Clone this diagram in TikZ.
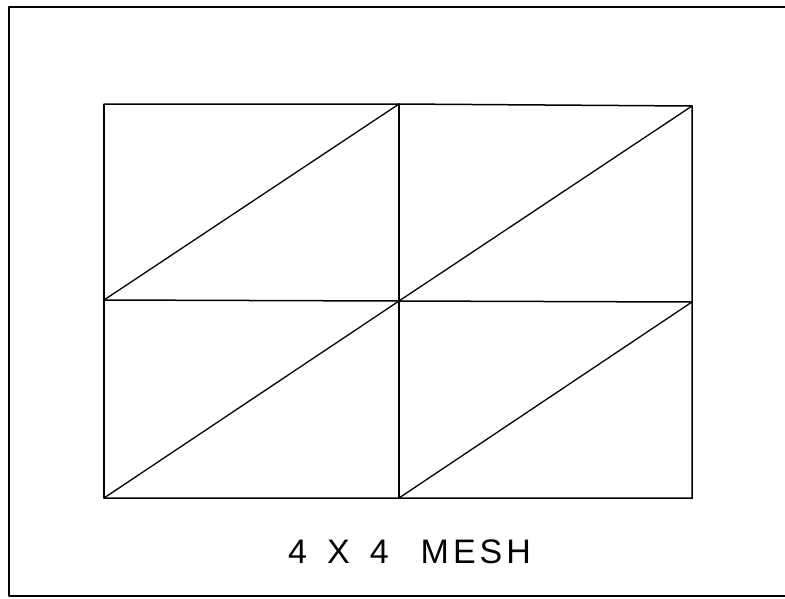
\documentclass[tikz,border=0pt]{standalone}
\usepackage{fontspec}
\setmainfont{Liberation Sans}
\begin{document}
\begin{tikzpicture}[x=1pt,y=-1pt,
  frame/.style={line width=1.6pt,line cap=round,line join=round},
  meshline/.style={line width=1.5pt,line cap=round},
  diag/.style={line width=1.3pt,line cap=round}]
\useasboundingbox (0,0) rectangle (785,598);
% outer frame (right side runs off the page)
\coordinate (otl) at (9,7);
\coordinate (otr) at (785,7);
\coordinate (obl) at (9,596);
\coordinate (obr) at (785,596);
\draw[frame] (otr) -- (otl) -- (obl) -- (obr);
% mesh corners
\coordinate (a1) at (104,104);
\coordinate (a2) at (399,104);
\coordinate (a3) at (692,106);
\coordinate (b1) at (104,300);
\coordinate (b2) at (399,301);
\coordinate (b3) at (692,302);
\coordinate (c1) at (104,498);
\coordinate (c2) at (399,498);
\coordinate (c3) at (692,498);
\draw[meshline] (a1) -- (a2) -- (a3) -- (b3) -- (c3) -- (c2) -- (c1);
\draw[line width=2.6pt] (c1) -- (b1) -- (a1);
\draw[meshline] (b1) -- (b2) -- (b3);
\draw[meshline] (a2) -- (b2) -- (c2);
% diagonals
\draw[diag] (b1) -- (a2);
\draw[diag] (b2) -- (a3);
\draw[diag] (c1) -- (b2);
\draw[diag] (c2) -- (b3);
% label
\node[anchor=base west,inner sep=0pt,font=\fontsize{34}{40}\selectfont] (lbl) at (288,563)
  {4\hspace{20pt}X\hspace{20pt}4\hspace{32pt}M\kern4pt E\kern4pt S\kern4pt H};
\end{tikzpicture}
\end{document}
